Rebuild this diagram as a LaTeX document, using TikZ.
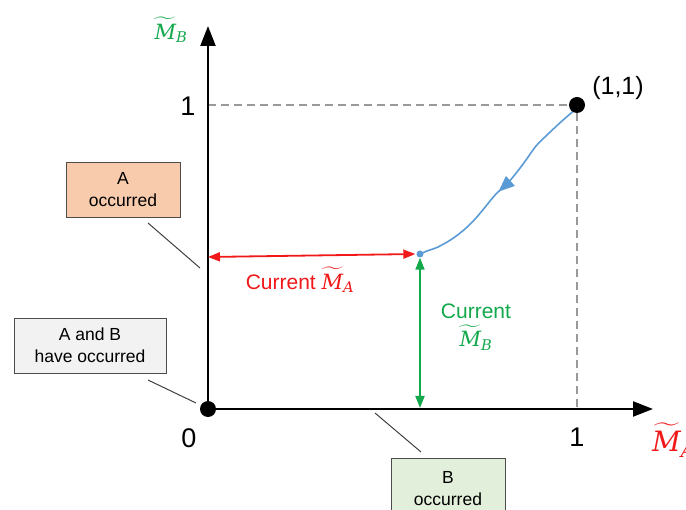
\documentclass[tikz,border=0pt]{standalone}
\usepackage{amsmath}
\usepackage{fontspec}
\setmainfont{Liberation Sans}
\newfontfamily\mfont{DejaVu Serif}
\newcommand\Mtil[1]{$\widetilde{\text{\mfont\itshape M}}_{\text{\mfont\itshape #1}}$}
\usetikzlibrary{arrows.meta,decorations.markings}
\definecolor{cred}{HTML}{F01818}
\definecolor{cgreen}{HTML}{12A84B}
\definecolor{cblue}{HTML}{5B9BD5}
\definecolor{peach}{HTML}{F8CBAD}
\definecolor{lgray}{HTML}{F2F2F2}
\definecolor{lgreen}{HTML}{E2EFDA}
\definecolor{dashgray}{HTML}{999999}
\tikzset{
  axis/.style={line width=2.2pt, -{Triangle[length=20pt,width=15pt]}},
  dot/.style={circle, fill=black, inner sep=0pt, minimum size=16pt},
  bluedot/.style={circle, fill=cblue, inner sep=0pt, minimum size=7pt},
  guide/.style={dashgray, line width=1.8pt, dash pattern=on 8pt off 5pt},
  redarr/.style={cred, line width=1.8pt, {Triangle[length=12pt,width=9pt]}-{Triangle[length=12pt,width=9pt]}},
  greenarr/.style={cgreen, line width=1.8pt, {Triangle[length=12pt,width=9pt]}-{Triangle[length=12pt,width=9pt]}},
  box/.style={draw=black!70, line width=0.9pt, align=center, font=\fontsize{17.5}{22}\selectfont, inner sep=0pt},
  leader/.style={draw=black!75, line width=1pt},
  ticklbl/.style={font=\fontsize{27}{30}\selectfont},
}
\begin{document}
\begin{tikzpicture}[x=1pt,y=-1pt]
\clip (0,0) rectangle (686,510);
\coordinate (O) at (208,409);
\coordinate (ytip) at (208,26);
\coordinate (xtip) at (653,409);
\coordinate (P) at (577,105);
\coordinate (Q) at (420,254);
\coordinate (yl) at (208,105);
\coordinate (xl) at (577,409);
% dashed guides
\draw[guide] (yl) -- (P) -- (xl);
% axes
\draw[axis] (O) -- (ytip);
\draw[axis] (O) -- (xtip);
% blue path
\draw[cblue, line width=1.6pt, decoration={markings, mark=at position 0.53 with {\arrow{Triangle[length=16pt,width=13pt]}}}, postaction={decorate}]
  plot[smooth, tension=0.5] coordinates {(577,108) (562,121) (547,135) (536,146) (526,160) (517,172) (507,184) (496,194) (486,206) (476,218) (465,229) (452,239) (438,247) (427,251) (420,254)};
% dots
\node[dot] (orig) at (O) {};
\node[dot] (one) at (P) {};
\node[bluedot] (cur) at (Q) {};
% current arrows
\coordinate (ya) at (208,257);
\draw[redarr, shorten >=1pt] (ya) -- (cur.west);
\draw[greenarr] (cur.south) -- (420,408);
% labels
\node[font=\fontsize{25}{28}\selectfont] (pl) at (618,88) {(1,1)};
\node[ticklbl] (y1) at (188,106) {1};
\node[ticklbl] (x1) at (577,437) {1};
\node[ticklbl] (zero) at (189,438) {0};
\node[text=cgreen, font=\fontsize{21}{24}\selectfont] (mb) at (171,30) {\Mtil{B}};
\node[text=cred, font=\fontsize{28}{30}\selectfont, anchor=west, inner sep=0pt] (ma) at (652,440) {\Mtil{A}};
\node[text=cred, font=\fontsize{21}{24}\selectfont] (cA) at (300,280) {Current \Mtil{A}};
\node[text=cgreen, font=\fontsize{21}{28}\selectfont, align=center] (cB) at (476,327) {Current\\\Mtil{B}};
% boxes
\node[box, fill=peach, minimum width=114pt, minimum height=55pt] (boxA) at (123,189.5) {A\\occurred};
\node[box, fill=lgray, minimum width=152pt, minimum height=55pt] (boxAB) at (90,345.5) {A and B\\have occurred};
\node[box, fill=lgreen, minimum width=114pt, minimum height=62pt] (boxB) at (448,489) {B\\occurred};
% leader lines
\coordinate (a1) at (148,223); \coordinate (a2) at (200,268);
\coordinate (b1) at (148,380); \coordinate (b2) at (196,403);
\coordinate (c1) at (375,413); \coordinate (c2) at (421,452);
\draw[leader] (a1) -- (a2);
\draw[leader] (b1) -- (b2);
\draw[leader] (c1) -- (c2);
\end{tikzpicture}
\end{document}
